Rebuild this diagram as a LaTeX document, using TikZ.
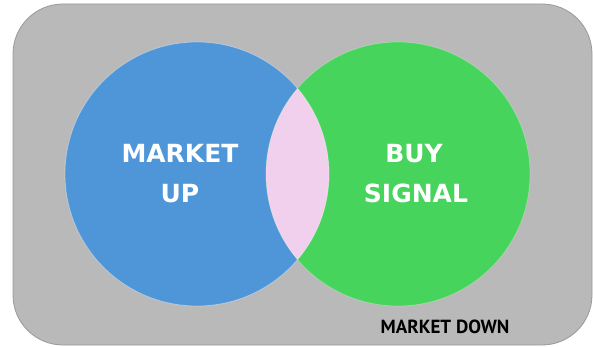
\documentclass[tikz,border=0pt]{standalone}
\usepackage{fontspec}
\setmainfont{DejaVu Sans}
\newfontfamily\downfont{PT Sans}

\definecolor{boxgray}{RGB}{185,185,185}
\definecolor{upblue}{RGB}{79,150,217}
\definecolor{buygreen}{RGB}{70,212,92}
\definecolor{lenspink}{RGB}{241,208,237}

\tikzset{
  set/.style={circle, minimum size=264pt, inner sep=0pt},
  setlabel/.style={anchor=base, text=white, font=\bfseries\fontsize{25}{30}\selectfont},
}

\begin{document}
\begin{tikzpicture}[x=1pt,y=-1pt]
    \useasboundingbox (0,0) rectangle (593,347);

    % Outer box
    \fill[boxgray, draw=black!40, line width=0.8pt, rounded corners=50pt] (13,4) rectangle (592,345);

    % The two sets
    \node[set, fill=upblue] (up) at (197,174) {};
    \node[set, fill=buygreen] (buy) at (398,174) {};

    % Overlap
    \begin{scope}
        \clip (up.center) circle (132pt);
        \fill[lenspink] (buy.center) circle (132pt);
    \end{scope}

    % Edges
    \draw[white, opacity=0.35, line width=0.8pt] (up.center) circle (132pt);
    \draw[white, opacity=0.25, line width=0.8pt] (buy.center) circle (132pt);

    % Labels
    \node[setlabel] (upA) at (180,163) {MARKET};
    \node[setlabel] (upB) at (180,203) {UP};
    \node[setlabel] (buyA) at (414,163) {BUY};
    \node[setlabel] (buyB) at (416,203) {SIGNAL};
    \node[anchor=base, font=\downfont\bfseries\fontsize{19}{22}\selectfont] (down) at (445,333) {MARKET DOWN};
\end{tikzpicture}
\end{document}
